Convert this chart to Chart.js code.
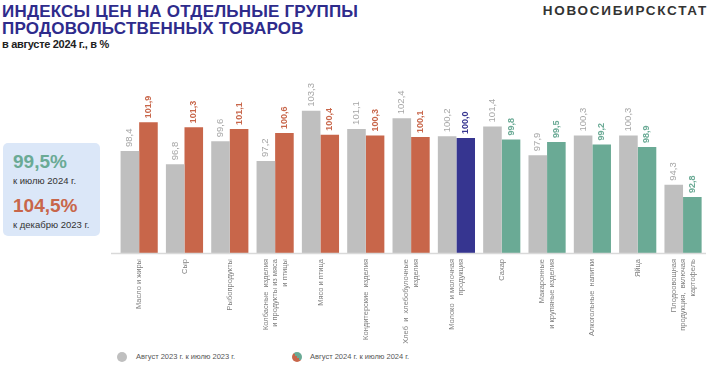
<!DOCTYPE html>
<html>
<head>
<meta charset="utf-8">
<script src="https://cdn.jsdelivr.net/npm/chart.js@4.4.1/dist/chart.umd.min.js"></script>
<style>
  body { margin: 0; width: 710px; height: 370px; background: #fff; position: relative; overflow: hidden;
         font-family: "Liberation Sans", Arial, sans-serif; }
  .title { position: absolute; left: 2px; top: 3px; color: #2e2b8c; font-weight: bold; font-size: 17px;
           line-height: 17px; letter-spacing: 0.2px; }
  .sub { position: absolute; left: 2px; top: 38px; font-weight: bold; font-size: 11px; color: #222; letter-spacing: -0.3px; }
  .logo { position: absolute; right: 2px; top: 3px; font-weight: bold; font-size: 13.5px; color: #333; letter-spacing: 1.7px; }
  .box { position: absolute; left: 3px; top: 143px; width: 97px; height: 93px; background: #dbe7f8; border-radius: 5px; }
  .big { position: absolute; left: 10px; font-weight: bold; font-size: 19px; }
  .small { position: absolute; left: 10px; font-size: 9.5px; color: #333; }
  #wrap { position: absolute; left: 110px; top: 60px; width: 600px; height: 290px; }
  .legend { position: absolute; top: 352px; font-size: 7.5px; color: #555; }
  .dot { position: absolute; width: 10px; height: 10px; border-radius: 50%; top: 352px; }
</style>
</head>
<body>
<div class="title">ИНДЕКСЫ ЦЕН НА ОТДЕЛЬНЫЕ ГРУППЫ<br>ПРОДОВОЛЬСТВЕННЫХ ТОВАРОВ</div>
<div class="sub">в августе 2024 г., в %</div>
<div class="logo">НОВОСИБИРСКСТАТ</div>

<div class="box">
  <div class="big" style="top:8px;color:#6aaa95">99,5%</div>
  <div class="small" style="top:32px">к июлю 2024 г.</div>
  <div class="big" style="top:52px;color:#c8664a">104,5%</div>
  <div class="small" style="top:76px">к декабрю 2023 г.</div>
</div>

<div id="wrap"><canvas id="chart"></canvas></div>

<div class="dot" style="left:117px;background:#bfbfbf"></div>
<div class="legend" style="left:136px">Август 2023 г. к июлю 2023 г.</div>
<div class="dot" style="left:292px;background:linear-gradient(to top right,#c8664a 50%,#6aaa95 50%)"></div>
<div class="legend" style="left:310px">Август 2024 г. к июлю 2024 г.</div>

<script>
// категории (строки подписей)
const categories = [
  ["Масло и жиры"],
  ["Сыр"],
  ["Рыбопродукты"],
  ["Колбасные  изделия", "и продукты из мяса", "и птицы"],
  ["Мясо и птица"],
  ["Кондитерские  изделия"],
  ["Хлеб  и  хлебобулочные", "изделия"],
  ["Молоко  и молочная", "продукция"],
  ["Сахар"],
  ["Макаронные", "и крупяные изделия"],
  ["Алкогольные  напитки"],
  ["Яйца"],
  ["Плодоовощная", "продукция,  включая", "картофель"]
];
const aug2023 = [98.4, 96.8, 99.6, 97.2, 103.3, 101.1, 102.4, 100.2, 101.4, 97.9, 100.3, 100.3, 94.3];
const aug2024 = [101.9, 101.3, 101.1, 100.6, 100.4, 100.3, 100.1, 100.0, 99.8, 99.5, 99.2, 98.9, 92.8];

const GRAY = "#bfbfbf";
const colorFor = v => v > 100 ? "#c8664a" : (v === 100 ? "#363590" : "#6aaa95");
const fmt = v => v.toFixed(1).replace(".", ",");
const FONT = '"Liberation Sans", Arial, sans-serif';

// подписи значений над столбиками (повернуты)
const valueLabels = {
  id: "valueLabels",
  afterDatasetsDraw(chart) {
    const ctx = chart.ctx;
    chart.data.datasets.forEach((ds, di) => {
      chart.getDatasetMeta(di).data.forEach((bar, i) => {
        const v = ds.data[i];
        ctx.save();
        ctx.translate(bar.x, bar.y - 4);
        ctx.rotate(-Math.PI / 2);
        ctx.textAlign = "left";
        ctx.textBaseline = "middle";
        if (di === 0) {
          ctx.font = "9.5px " + FONT;
          ctx.fillStyle = "#a6a6a6";
        } else {
          ctx.font = "bold 9px " + FONT;
          ctx.fillStyle = colorFor(v);
        }
        ctx.fillText(fmt(v), 0, 0);
        ctx.restore();
      });
    });
  }
};

// ось и подписи категорий
const categoryAxis = {
  id: "categoryAxis",
  afterDraw(chart) {
    const ctx = chart.ctx;
    const area = chart.chartArea;
    const xs = chart.scales.x;
    ctx.save();
    ctx.strokeStyle = "#d9d9d9";
    ctx.lineWidth = 1.5;
    ctx.beginPath();
    ctx.moveTo(1, area.bottom + 0.5);
    ctx.lineTo(596, area.bottom + 0.5);
    ctx.stroke();

    const lh = 9.5;
    ctx.font = "7.5px " + FONT;
    ctx.fillStyle = "#7f7f7f";
    ctx.textAlign = "right";
    ctx.textBaseline = "middle";
    categories.forEach((lines, i) => {
      const x = xs.getPixelForValue(i);
      lines.forEach((line, j) => {
        const off = (j - (lines.length - 1) / 2) * lh;
        ctx.save();
        ctx.translate(x + off, area.bottom + 6);
        ctx.rotate(-Math.PI / 2);
        ctx.fillText(line, 0, 0);
        ctx.restore();
      });
    });
    ctx.restore();
  }
};

new Chart(document.getElementById("chart"), {
  type: "bar",
  data: {
    labels: categories.map(c => c.join(" ")),
    datasets: [
      { label: "Август 2023 г. к июлю 2023 г.", data: aug2023, backgroundColor: GRAY },
      { label: "Август 2024 г. к июлю 2024 г.", data: aug2024, backgroundColor: aug2024.map(colorFor) }
    ]
  },
  options: {
    responsive: true,
    maintainAspectRatio: false,
    animation: false,
    layout: { padding: { left: 6.5, right: 4.3, top: 28.6, bottom: 97 } },
    datasets: { bar: { categoryPercentage: 0.82, barPercentage: 1.0 } },
    scales: {
      x: { display: false },
      y: { display: false, min: 86, max: 106 }
    },
    plugins: {
      legend: { display: false },
      tooltip: { enabled: false }
    }
  },
  plugins: [valueLabels, categoryAxis]
});
</script>
</body>
</html>
